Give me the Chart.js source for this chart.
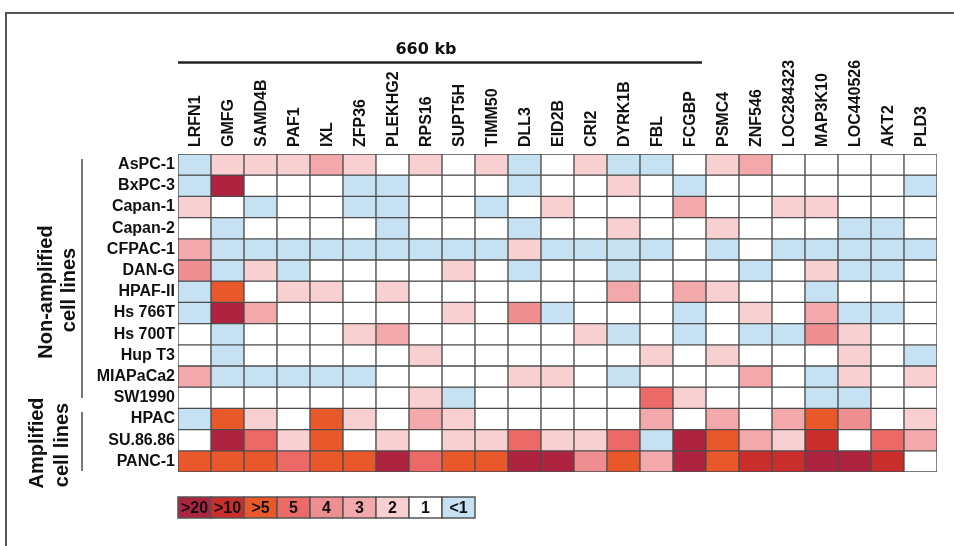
<!DOCTYPE html>
<html>
<head>
<meta charset="utf-8">
<script src="https://cdn.jsdelivr.net/npm/chart.js@4.4.1/dist/chart.umd.min.js"></script>
<style>
  html, body { margin: 0; padding: 0; background: #fff; }
  #wrap { position: relative; width: 954px; height: 546px; }
</style>
</head>
<body>
<div id="wrap"><canvas id="heat" width="954" height="546"></canvas></div>
<script>
const genes = ["LRFN1", "GMFG", "SAMD4B", "PAF1", "IXL", "ZFP36", "PLEKHG2", "RPS16", "SUPT5H",
  "TIMM50", "DLL3", "EID2B", "CRI2", "DYRK1B", "FBL", "FCGBP", "PSMC4", "ZNF546",
  "LOC284323", "MAP3K10", "LOC440526", "AKT2", "PLD3"];
const cellLines = ["AsPC-1", "BxPC-3", "Capan-1", "Capan-2", "CFPAC-1", "DAN-G", "HPAF-II",
  "Hs 766T", "Hs 700T", "Hup T3", "MIAPaCa2", "SW1990", "HPAC", "SU.86.86", "PANC-1"];

// fold level per gene: 0 = <1, 1 = 1, 2 = 2, 3 = 3, 4 = 4, 5 = 5, 6 = >5, 7 = >10, 8 = >20
const aspc1    = [0,2,2,2,3,2,1,2,1,2,0,1,2,0,0,1,2,3,1,1,1,1,1];
const bxpc3    = [0,8,1,1,1,0,0,1,1,1,0,1,1,2,1,0,1,1,1,1,1,1,0];
const capan1   = [2,1,0,1,1,0,0,1,1,0,1,2,1,1,1,3,1,1,2,2,1,1,1];
const capan2   = [1,0,1,1,1,1,0,1,1,1,0,1,1,2,1,1,2,1,1,1,0,0,1];
const cfpac1   = [3,0,0,0,0,0,0,0,0,0,2,0,0,0,0,1,0,1,0,0,0,0,0];
const dang     = [4,0,2,0,1,1,1,1,2,1,0,1,1,0,1,1,1,0,1,2,0,0,1];
const hpaf2    = [0,6,1,2,2,1,2,1,1,1,1,1,1,3,1,3,2,1,1,0,1,1,1];
const hs766t   = [0,8,3,1,1,1,1,1,2,1,4,0,1,1,1,0,1,2,1,3,0,0,1];
const hs700t   = [1,0,1,1,1,2,3,1,1,1,1,1,2,0,1,0,1,0,0,4,2,1,1];
const hupt3    = [1,0,1,1,1,1,1,2,1,1,1,1,1,1,2,1,2,1,1,1,2,1,0];
const miapaca2 = [3,0,0,0,0,0,1,1,1,1,2,2,1,0,1,1,1,3,1,0,2,1,2];
const sw1990   = [1,1,1,1,1,1,1,2,0,1,1,1,1,1,5,2,1,1,1,0,0,1,1];
const hpac     = [0,6,2,1,6,2,1,3,2,1,1,1,1,1,3,1,3,1,3,6,4,1,2];
const su8686   = [1,8,5,2,6,1,2,1,2,2,5,2,2,5,0,8,6,3,2,7,1,5,3];
const panc1    = [6,6,6,5,6,6,8,5,6,6,8,8,4,6,3,8,6,7,7,8,8,7,1];
const rows = [aspc1, bxpc3, capan1, capan2, cfpac1, dang, hpaf2, hs766t, hs700t, hupt3,
  miapaca2, sw1990, hpac, su8686, panc1];

const levelNames = ["<1", "1", "2", "3", "4", "5", ">5", ">10", ">20"];
const levelColors = ["#c6e1f1", "#ffffff", "#f8d0d2", "#f3a8ab", "#ef8e91", "#eb6a68",
  "#e8582a", "#c92e2c", "#ae2340"];
const legendOrder = [8, 7, 6, 5, 4, 3, 2, 1, 0];

const FONT = "'Liberation Sans', Arial, sans-serif";

const extras = {
  id: "extras",
  afterDraw(chart) {
    const { ctx, chartArea } = chart;
    const xs = chart.scales.x;
    const colW = xs.getPixelForValue(1) - xs.getPixelForValue(0);
    ctx.save();

    // figure frame
    ctx.strokeStyle = "#555";
    ctx.lineWidth = 2;
    ctx.beginPath();
    ctx.moveTo(6, 546);
    ctx.lineTo(6, 13);
    ctx.lineTo(954, 13);
    ctx.stroke();

    // 660 kb region bar
    ctx.strokeStyle = "#222";
    ctx.lineWidth = 2.5;
    ctx.beginPath();
    ctx.moveTo(chartArea.left, 62.5);
    ctx.lineTo(xs.getPixelForValue(15) + colW / 2 - 4, 62.5);
    ctx.stroke();
    ctx.fillStyle = "#111";
    ctx.font = "bold 16px 'DejaVu Sans', sans-serif";
    ctx.textAlign = "center";
    ctx.textBaseline = "alphabetic";
    ctx.fillText("660 kb", 426, 54);

    // group brackets
    ctx.strokeStyle = "#777";
    ctx.lineWidth = 2;
    ctx.beginPath();
    ctx.moveTo(82, 159); ctx.lineTo(82, 398);
    ctx.moveTo(82, 412); ctx.lineTo(82, 471);
    ctx.stroke();

    // group labels
    ctx.font = "bold 20px " + FONT;
    ctx.textBaseline = "middle";
    const vtext = (txt, x, y) => {
      ctx.save();
      ctx.translate(x, y);
      ctx.rotate(-Math.PI / 2);
      ctx.fillText(txt, 0, 0);
      ctx.restore();
    };
    vtext("Non-amplified", 46, 292);
    vtext("cell lines", 69, 290);
    vtext("Amplified", 37, 443);
    vtext("cell lines", 62, 445);

    // colour key
    const top = 497, h = 21;
    ctx.font = "bold 16px " + FONT;
    legendOrder.forEach((lvl, i) => {
      const left = xs.getPixelForValue(i) - colW / 2;
      ctx.fillStyle = levelColors[lvl];
      ctx.fillRect(left, top, colW, h);
      ctx.strokeStyle = "#555";
      ctx.lineWidth = 1.5;
      ctx.strokeRect(left, top, colW, h);
      ctx.fillStyle = "#111";
      ctx.fillText(levelNames[lvl], left + colW / 2, top + h / 2 + 1);
    });
    ctx.restore();
  }
};

new Chart(document.getElementById("heat"), {
  type: "bar",
  data: {
    labels: genes,
    datasets: cellLines.map((name, i) => ({
      label: name,
      data: genes.map(() => 1),
      backgroundColor: rows[i].map((v) => levelColors[v]),
      borderColor: "#4d4d4d",
      borderWidth: 1,
      borderSkipped: false,
      barPercentage: 1,
      categoryPercentage: 1,
    })),
  },
  options: {
    responsive: false,
    animation: false,
    layout: { padding: { left: 0, top: 0, right: 17, bottom: 74 } },
    plugins: { legend: { display: false }, tooltip: { enabled: false } },
    scales: {
      x: {
        position: "top",
        stacked: true,
        grid: { display: false, drawTicks: false },
        border: { display: false },
        afterFit: (s) => { s.height = 154; },
        ticks: {
          autoSkip: false,
          minRotation: 90,
          maxRotation: 90,
          padding: 7,
          labelOffset: 20,
          color: "#111",
          font: { family: FONT, size: 16, weight: "bold" },
        },
      },
      y: {
        stacked: true,
        reverse: true,
        min: 0,
        max: cellLines.length,
        grid: { display: false, drawTicks: false },
        border: { display: false },
        afterFit: (s) => { s.width = 178; },
        afterBuildTicks: (s) => { s.ticks = cellLines.map((_, i) => ({ value: i + 0.5 })); },
        ticks: {
          padding: 3,
          color: "#111",
          font: { family: FONT, size: 16, weight: "bold" },
          callback: (v) => cellLines[Math.floor(v)],
        },
      },
    },
  },
  plugins: [extras],
});
</script>
</body>
</html>
